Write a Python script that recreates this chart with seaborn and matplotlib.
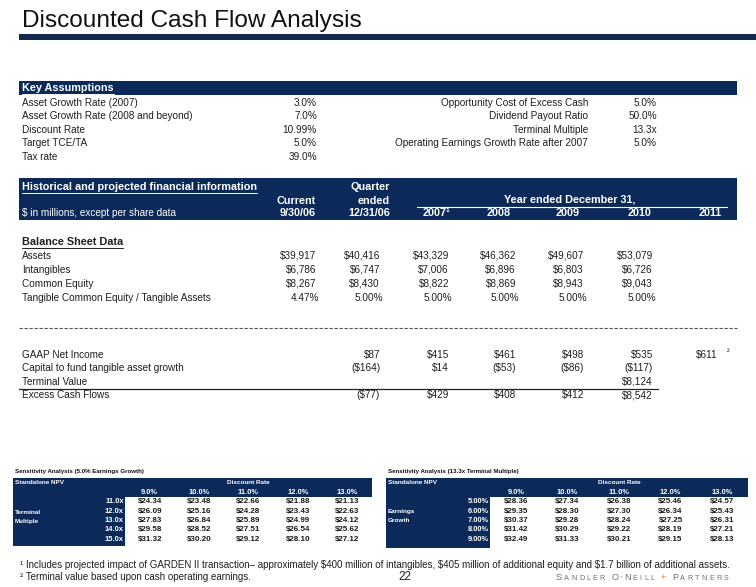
import numpy as np
import matplotlib
matplotlib.use("Agg")
import matplotlib.pyplot as plt
from matplotlib.patches import Rectangle
from matplotlib.colors import ListedColormap
import seaborn as sns

sns.set_theme(style="white")
plt.rcParams["font.family"] = ["Liberation Sans", "DejaVu Sans"]

W, H = 756, 587
NAVY = "#0b2a5a"
TXT = "#1e1e1e"

# ---------------- data ----------------
assump_left_labels = ["Asset Growth Rate (2007)", "Asset Growth Rate (2008 and beyond)",
                      "Discount Rate", "Target TCE/TA", "Tax rate"]
assump_left_values = ["3.0%", "7.0%", "10.99%", "5.0%", "39.0%"]
assump_right_labels = ["Opportunity Cost of Excess Cash", "Dividend Payout Ratio",
                       "Terminal Multiple", "Operating Earnings Growth Rate after 2007"]
assump_right_values = ["5.0%", "50.0%", "13.3x", "5.0%"]

period_dates = ["9/30/06", "12/31/06"]
years = ["2007\u00b9", "2008", "2009", "2010", "2011"]

balance_labels = ["Assets", "Intangibles", "Common Equity", "Tangible Common Equity / Tangible Assets"]
assets = [39917, 40416, 43329, 46362, 49607, 53079]
intangibles = [6786, 6747, 7006, 6896, 6803, 6726]
common_equity = [8267, 8430, 8822, 8869, 8943, 9043]
tce_ta = [4.47, 5.00, 5.00, 5.00, 5.00, 5.00]

cash_labels = ["GAAP Net Income", "Capital to fund tangible asset growth", "Terminal Value", "Excess Cash Flows"]
net_income = [87, 415, 461, 498, 535, 611]
capital_growth = [-164, 14, -53, -86, -117, None]
terminal_value = [None, None, None, None, 8124, None]
excess_cash = [-77, 429, 408, 412, 8542, None]

discount_rates = [9.0, 10.0, 11.0, 12.0, 13.0]
terminal_multiples = [11.0, 12.0, 13.0, 14.0, 15.0]
npv_by_multiple = [[24.34, 23.48, 22.66, 21.88, 21.13],
                   [26.09, 25.16, 24.28, 23.43, 22.63],
                   [27.83, 26.84, 25.89, 24.99, 24.12],
                   [29.58, 28.52, 27.51, 26.54, 25.62],
                   [31.32, 30.20, 29.12, 28.10, 27.12]]
earnings_growth = [5.0, 6.0, 7.0, 8.0, 9.0]
npv_by_growth = [[28.36, 27.34, 26.38, 25.46, 24.57],
                 [29.35, 28.30, 27.30, 26.34, 25.43],
                 [30.37, 29.28, 28.24, 27.25, 26.31],
                 [31.42, 30.29, 29.22, 28.19, 27.21],
                 [32.49, 31.33, 30.21, 29.15, 28.13]]

footnotes = ["\u00b9 Includes projected impact of GARDEN II transaction\u2013 approximately $400 million of intangibles, "
             "$405 million of additional equity and $1.7 billion of additional assets.",
             "\u00b2 Terminal value based upon cash operating earnings."]

# ---------------- layout (pixels) ----------------
COL_X = [316, 380, 449, 516, 584, 653, 718]
HDR_X = [316, 390, 450, 511, 580, 652, 722]
FS = 7.2
HFS = 7.8
SFS = 5.4


def money(v):
    if v is None:
        return ""
    return f"(${-v:,.0f})" if v < 0 else f"${v:,.0f}"


fig = plt.figure(figsize=(W / 100, H / 100), dpi=100)
fig.patch.set_facecolor("white")
ax = fig.add_axes([0, 0, 1, 1])
ax.set_xlim(0, W)
ax.set_ylim(H, 0)
ax.axis("off")

underlined = []


def txt(x, y, s, ha="left", color=TXT, size=FS, bold=False, ul=False, **kw):
    t = ax.text(x, y, s, ha=ha, va="center", color=color, fontsize=size,
                fontweight="bold" if bold else "normal", **kw)
    if ul:
        underlined.append((t, y, color))
    return t


# title
txt(22, 21, "Discounted Cash Flow Analysis", size=17.6, color="#111111")
ax.add_patch(Rectangle((19, 34), W - 19, 6, color="#13294f", lw=0))

# key assumptions
ax.add_patch(Rectangle((19, 81), 718, 14, color=NAVY, lw=0))
txt(22, 88, "Key Assumptions", color="white", bold=True, ul=True, size=HFS)
row_y = [103, 116, 130, 143, 157]
for y, lab, val in zip(row_y, assump_left_labels, assump_left_values):
    txt(22, y, lab)
    txt(317, y, val, ha="right")
for y, lab, val in zip(row_y, assump_right_labels, assump_right_values):
    txt(588, y, lab, ha="right")
    txt(657, y, val, ha="right")

# historical header band
ax.add_patch(Rectangle((19, 178), 718, 42, color=NAVY, lw=0))
txt(22, 187, "Historical and projected financial information", color="white", bold=True, ul=True, size=HFS)
txt(HDR_X[1], 187, "Quarter", ha="right", color="white", bold=True, size=HFS)
txt(HDR_X[0], 201, "Current", ha="right", color="white", bold=True, size=HFS)
txt(HDR_X[1], 201, "ended", ha="right", color="white", bold=True, size=HFS)
txt(570, 200, "Year ended December 31,", ha="center", color="white", bold=True, size=HFS)
ax.plot([417, 727], [207, 207], color="white", lw=0.8)
txt(22, 213, "$ in millions, except per share data", color="white")
for x, lab in zip(HDR_X, period_dates + years):
    txt(x, 213, lab, ha="right", color="white", bold=True, size=HFS)

# balance sheet
txt(22, 242, "Balance Sheet Data", bold=True, ul=True, size=HFS)
bal_y = [256, 270, 284, 298]
for y, lab, vals in zip(bal_y[:3], balance_labels[:3], [assets, intangibles, common_equity]):
    txt(22, y, lab)
    for x, v in zip(COL_X, vals):
        txt(x, y, money(v), ha="right")
txt(22, bal_y[3], balance_labels[3])
for x, v in zip(COL_X, tce_ta):
    txt(x + 3, bal_y[3], f"{v:.2f}%", ha="right")

ax.plot([19, 737], [328, 328], color="#555555", lw=0.8, ls=(0, (3, 1.5)))

# cash flows
cash_y = [355, 368, 382, 395]
for y, lab, vals in zip(cash_y, cash_labels, [net_income, capital_growth, terminal_value, excess_cash]):
    txt(22, y, lab)
    for x, v in zip(COL_X[1:], vals):
        txt(x, y, money(v), ha="right")
txt(727, 352, "\u00b2", size=5.5)
ax.plot([19, 658], [389, 389], color="#222222", lw=0.9)


# sensitivity tables
def sens_table(bx0, dx0, bx1, band_top, dy0, dy1, block_bottom, title, side, rows, row_labels, grid):
    ax.add_patch(Rectangle((bx0, band_top), bx1 - bx0, dy0 - band_top, color=NAVY, lw=0))
    ax.add_patch(Rectangle((bx0, dy0), dx0 - bx0, block_bottom - dy0, color=NAVY, lw=0))
    txt(bx0 + 2, 472, title, bold=True, size=4.4, color="#111111")
    txt(bx0 + 2, 483, "Standalone NPV", bold=True, size=4.6, color="white")
    txt((dx0 + bx1) / 2, 483, "Discount Rate", ha="center", bold=True, size=4.6, color="white")
    txt(bx0 + 2, 512, side[0], bold=True, size=4.6, color="white")
    txt(bx0 + 2, 521, side[1], bold=True, size=4.6, color="white")
    hax = fig.add_axes([dx0 / W, 1 - dy1 / H, (bx1 - dx0) / W, (dy1 - dy0) / H])
    annot = np.array([[f"${v:.2f}" for v in r] for r in grid])
    sns.heatmap(np.zeros((len(rows), len(discount_rates))), vmin=0, vmax=1,
                cmap=ListedColormap(["white"]), cbar=False, annot=annot, fmt="",
                annot_kws=dict(fontsize=5.8, fontweight="bold", color="#1a1a1a"),
                xticklabels=[f"{d:.1f}%" for d in discount_rates], yticklabels=row_labels,
                linewidths=0, ax=hax)
    hax.xaxis.tick_top()
    hax.tick_params(length=0, pad=1.0, labelsize=SFS, labelcolor="white")
    plt.setp(hax.get_xticklabels(), rotation=0, fontweight="bold")
    plt.setp(hax.get_yticklabels(), rotation=0, fontweight="bold", ha="right")


sens_table(13, 125, 372, 478, 497, 544, 546, "Sensitivity Analysis (5.0% Earnings Growth)",
           ["Terminal", "Multiple"], terminal_multiples,
           [f"{m:.1f}x" for m in terminal_multiples], npv_by_multiple)
sens_table(386, 490, 748, 478, 497, 544, 548, "Sensitivity Analysis (13.3x Terminal Multiple)",
           ["Earnings", "Growth"], earnings_growth,
           [f"{g:.2f}%" for g in earnings_growth], npv_by_growth)

# footnotes
txt(20, 565, footnotes[0], size=7.0)
txt(20, 577, footnotes[1], size=7.0)
txt(405, 577, "22", ha="center", size=8.5)

# underlines drawn under measured text
fig.canvas.draw()
for t, y, c in underlined:
    bb = t.get_window_extent()
    ax.plot([bb.x0, bb.x1], [y + 5.5, y + 5.5], color=c, lw=0.7)

# firm name in spaced small caps
x = 556
for word in ["Sandler", "O'Neill", "+", "Partners"]:
    for i, ch in enumerate(word):
        big = i == 0 or (word == "O'Neill" and i == 2)
        col = "#e08a2c" if ch == "+" else "#707070"
        t = ax.text(x, 580, ch.upper(), ha="left", va="baseline", fontsize=6.6 if big else 5.2,
                    color=col)
        fig.canvas.draw()
        x += t.get_window_extent().width + 2.2
    x += 4

fig.savefig("out.png", dpi=100, facecolor="white")
